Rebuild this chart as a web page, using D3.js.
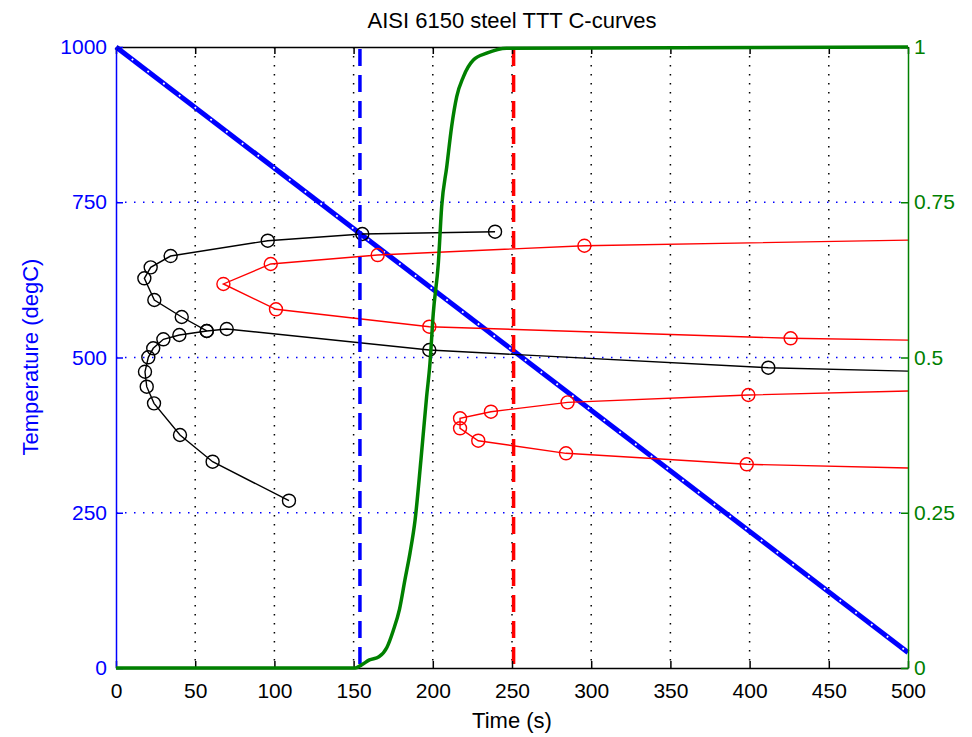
<!DOCTYPE html>
<html>
<head>
<meta charset="utf-8">
<script src="https://cdn.jsdelivr.net/npm/d3@7"></script>
<style>
  body { margin: 0; background: #fff; }
  svg { display: block; }
  text { font-family: "Liberation Sans", Arial, sans-serif; }
</style>
</head>
<body>
<div id="chart"></div>
<script>
// tick labels
var timeTicks = [0, 50, 100, 150, 200, 250, 300, 350, 400, 450, 500];
var tempTicks = [0, 250, 500, 750, 1000];
var fracTicks = [0, 0.25, 0.5, 0.75, 1];

// cooling curve (degC vs s)
var coolTime = [0, 500];
var coolTemp = [1000, 25];

// black C-curves
var blackUpperTime = [239.3, 155.5, 95.8, 34.5, 21.9, 17.9, 24.2, 41.5, 57.3];
var blackUpperTemp = [702.6, 698.9, 688.1, 663.4, 645.2, 627.5, 592.6, 565.2, 542.7];
var blackLowerTime = [109.2, 61, 40.4, 24, 19.4, 18.3, 20.4, 23.5, 29.9, 40, 57.3, 69.9, 197.8, 411.8, 500];
var blackLowerTemp = [269.4, 332.2, 375.2, 426.2, 453, 477.1, 500.3, 514.8, 529.3, 536.2, 542.7, 545.9, 512.1, 483.6, 478];

// red C-curves
var redUpperTime = [500, 295.7, 165.2, 97.7, 67.8, 101, 197.8, 425.9, 500];
var redUpperTemp = [689, 680, 665, 650.6, 618.4, 577.6, 549.6, 530.9, 528];
var redLowerTime = [500, 399.2, 285.1, 236.7, 217.2, 217.2, 228.7, 284.1, 398.2, 500];
var redLowerTemp = [446, 439.6, 427.8, 412.7, 402.1, 386, 366, 345.7, 328, 322];

// transformed fraction (right axis)
var fracTime = [0, 151, 155, 160, 166, 171, 175, 179, 182.4, 185.6, 188.8, 192.5, 196.1, 198.2, 200.3, 203.5, 205.6, 208.8, 211.9, 215.1, 219.3, 225.6, 234, 246.6, 500];
var fracVal = [0, 0, 0.005, 0.013, 0.018, 0.033, 0.06, 0.095, 0.142, 0.185, 0.238, 0.335, 0.437, 0.49, 0.571, 0.652, 0.743, 0.807, 0.872, 0.92, 0.952, 0.979, 0.99, 0.998, 1];

// start / finish times where cooling crosses the curves
var markTimes = [154, 251];
var markColors = ["#0000ff", "#ff0000"];

var W = 972, H = 737;
var svg = d3.select("#chart").append("svg").attr("width", W).attr("height", H);

var x = d3.scaleLinear().domain([0, 500]).range([116, 908]);
var yT = d3.scaleLinear().domain([0, 1000]).range([668, 47]);
var yF = d3.scaleLinear().domain([0, 1]).range([668, 47]);

function pts(ts, vs) { return ts.map(function (t, i) { return [t, vs[i]]; }); }

// grid
svg.append("g").selectAll("line")
  .data(timeTicks.slice(1, -1)).enter().append("line")
  .attr("x1", function (d) { return x(d); }).attr("x2", function (d) { return x(d); })
  .attr("y1", 47).attr("y2", 668)
  .attr("stroke", "#000").attr("stroke-width", 1.5).attr("stroke-dasharray", "1.5,7.5");
svg.append("g").selectAll("line")
  .data(tempTicks.slice(1, -1)).enter().append("line")
  .attr("x1", 116).attr("x2", 908)
  .attr("y1", function (d) { return yT(d); }).attr("y2", function (d) { return yT(d); })
  .attr("stroke", "#0000ff").attr("stroke-width", 1.5).attr("stroke-dasharray", "1.5,7.5");

var lineT = d3.line().x(function (d) { return x(d[0]); }).y(function (d) { return yT(d[1]); });
var lineF = d3.line().x(function (d) { return x(d[0]); }).y(function (d) { return yF(d[1]); }).curve(d3.curveMonotoneX);

// cooling line, thick with small square markers
svg.append("path").attr("d", lineT(pts(coolTime, coolTemp)))
  .attr("fill", "none").attr("stroke", "#0000ff").attr("stroke-width", 5);
svg.append("path").attr("d", lineT(pts(coolTime, coolTemp)))
  .attr("fill", "none").attr("stroke", "#fff").attr("stroke-width", 1.8)
  .attr("stroke-dasharray", "1.8,18");

// C-curves
var curves = [
  { t: blackUpperTime, v: blackUpperTemp, c: "#000" },
  { t: blackLowerTime, v: blackLowerTemp, c: "#000" },
  { t: redUpperTime, v: redUpperTemp, c: "#ff0000" },
  { t: redLowerTime, v: redLowerTemp, c: "#ff0000" }
];
curves.forEach(function (cv) {
  var p = pts(cv.t, cv.v);
  svg.append("path").attr("d", lineT(p))
    .attr("fill", "none").attr("stroke", cv.c).attr("stroke-width", 1.4);
  svg.append("g").selectAll("circle")
    .data(p.filter(function (d) { return d[0] < 500; })).enter().append("circle")
    .attr("cx", function (d) { return x(d[0]); })
    .attr("cy", function (d) { return yT(d[1]); })
    .attr("r", 6.5).attr("fill", "none").attr("stroke", cv.c).attr("stroke-width", 1.4);
});

// dashed start / finish markers
markTimes.forEach(function (t, i) {
  svg.append("line")
    .attr("x1", x(t)).attr("x2", x(t)).attr("y1", 49).attr("y2", 668)
    .attr("stroke", markColors[i]).attr("stroke-width", 3.5).attr("stroke-dasharray", "17,9");
});

// axes
var fmt = function (d) { return String(d); };
var axBottom = svg.append("g").attr("transform", "translate(0,668)")
  .call(d3.axisBottom(x).tickValues(timeTicks).tickFormat(fmt).tickSizeInner(-7).tickSizeOuter(0).tickPadding(15));
var axTop = svg.append("g").attr("transform", "translate(0,47)")
  .call(d3.axisTop(x).tickValues(timeTicks).tickFormat("").tickSizeInner(-7).tickSizeOuter(0));
var axLeft = svg.append("g").attr("transform", "translate(116,0)")
  .call(d3.axisLeft(yT).tickValues(tempTicks).tickFormat(fmt).tickSizeInner(-7).tickSizeOuter(0).tickPadding(9));
var axRight = svg.append("g").attr("transform", "translate(908,0)")
  .call(d3.axisRight(yF).tickValues(fracTicks).tickFormat(fmt).tickSizeInner(-7).tickSizeOuter(0).tickPadding(6));

function styleAxis(g, col) {
  g.select(".domain").attr("stroke", col).attr("stroke-width", 1.5);
  g.selectAll(".tick line").attr("stroke", col).attr("stroke-width", 1.5);
  g.selectAll("text").attr("fill", col).style("font-size", "21px")
    .style("font-family", "'Liberation Sans', Arial, sans-serif");
}
styleAxis(axBottom, "#000");
styleAxis(axTop, "#000");
styleAxis(axLeft, "#0000ff");
styleAxis(axRight, "#008000");

// transformed fraction curve on top
svg.append("path").attr("d", lineF(pts(fracTime, fracVal)))
  .attr("fill", "none").attr("stroke", "#008000").attr("stroke-width", 3.5);

// titles
svg.append("text").attr("x", 512).attr("y", 28).attr("text-anchor", "middle")
  .style("font-size", "22px").text("AISI 6150 steel TTT C-curves");
svg.append("text").attr("x", 512).attr("y", 728).attr("text-anchor", "middle")
  .style("font-size", "22px").text("Time (s)");
svg.append("text").attr("transform", "translate(38,357) rotate(-90)").attr("text-anchor", "middle")
  .attr("fill", "#0000ff").style("font-size", "22px").text("Temperature (degC)");
</script>
</body>
</html>
